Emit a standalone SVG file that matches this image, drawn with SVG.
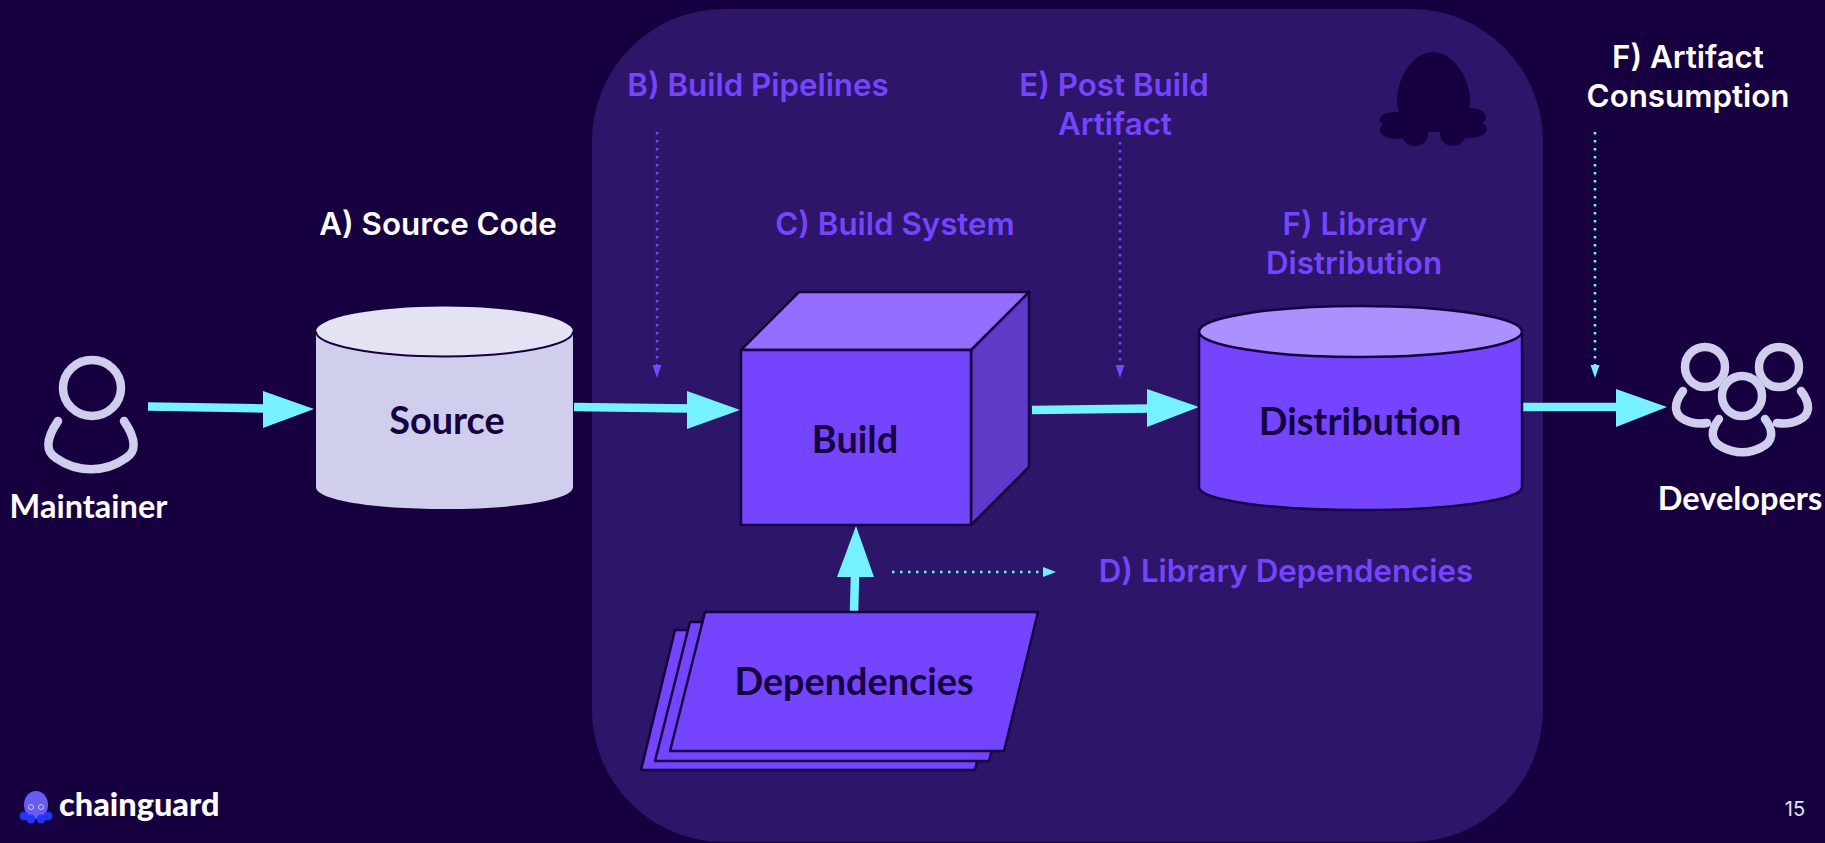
<svg xmlns="http://www.w3.org/2000/svg" width="1825" height="843" viewBox="0 0 1825 843">
<style>
.h{font-family:Inter,"Open Sans",sans-serif;font-weight:600;font-size:31.300px;text-anchor:middle}
.w{fill:#fff}.p{fill:#7444FF}
.n{font-family:Lato,"Liberation Sans",sans-serif;font-weight:700;font-size:37.800px;fill:#170040;text-anchor:middle}
.l{font-family:Lato,"Liberation Sans",sans-serif;font-weight:700;font-size:32.500px;fill:#fff;text-anchor:middle}
.o{stroke:#170040;stroke-width:2.5;stroke-linejoin:round}
.i{fill:none;stroke:#CFCEEC;stroke-width:8.5;stroke-linecap:round}
.s{stroke:#75F1FF;stroke-width:8.5;fill:none}
.a{fill:#75F1FF}
.d{fill:none;stroke-width:2.500;stroke-dasharray:2.500 5.500}
</style>
<rect width="1825" height="843" fill="#170040"/>
<rect id="panel" x="592" y="9" width="951" height="833" rx="132" fill="#2D1569"/>
<g id="octopus-mark" fill="#170040">
<path d="M1433 52C1453 52 1470 78 1470 100C1470 115 1462 132 1433 132C1404 132 1397 115 1397 100C1397 78 1413 52 1433 52Z"/>
<ellipse cx="1394" cy="120" rx="14" ry="8"/><ellipse cx="1396" cy="130" rx="16" ry="9"/>
<ellipse cx="1472" cy="117" rx="14" ry="9"/><ellipse cx="1470" cy="129" rx="17" ry="9"/>
<ellipse cx="1415" cy="134" rx="13" ry="12"/><ellipse cx="1453" cy="134" rx="13" ry="12"/>
<rect x="1405" y="115" width="56" height="17"/>
</g>
<g id="connectors">
<path class="s" d="M148 406.500L265 408.500M574 407L690 408.500M1032 410L1150 408.500M1521 407H1618M854 612L855 575"/>
<path class="a" d="M263 391L314 409L263 428ZM687 391L740 410L687 429ZM1147 389L1199 407L1147 427ZM1616 389L1667 407L1616 427ZM837 577L856 526L874 577Z"/>
<path class="d" stroke="#75F1FF" d="M892 572H1043M1595 132V366"/>
<path class="a" d="M1043 567L1056 572L1043 577ZM1590.500 365H1599.500L1595 378Z"/>
<path class="d" stroke="#7444FF" d="M657 132V366M1120 142V366"/>
<path class="p" d="M652.500 365H661.500L657 378ZM1115.500 365H1124.500L1120 378Z"/>
</g>
<g id="maintainer">
<ellipse class="i" cx="92" cy="388" rx="29" ry="28"/>
<path class="i" d="M59 421C46 440 47 452 57 458C78 473 106 473 127 458C137 452 138 440 125 421" transform="translate(-1 0)"/>
<text class="l" x="88.500" y="518">Maintainer</text>
</g>
<g id="source">
<path fill="#CFCEEC" d="M316 332V487C316 500 372 509 444 509C516 509 573 500 573 487V332Z"/>
<ellipse cx="444.500" cy="331.500" rx="128.500" ry="25" fill="#E3E3F4"/>
<path fill="none" stroke="#170040" stroke-width="2" d="M316 331.500C316 345 372 356.500 444.500 356.500C517 356.500 573 345 573 331.500"/>
<text class="n" x="447" y="434">Source</text>
</g>
<g id="build">
<path class="o" fill="#6039C8" d="M971 350L1029 292V467L971 525Z"/>
<path class="o" fill="#946DFF" d="M741 350L799 292H1029L971 350Z"/>
<rect class="o" x="741" y="350" width="230" height="175" fill="#7444FF"/>
<text class="n" x="855" y="452.500">Build</text>
</g>
<g id="dependencies">
<path class="o" fill="#7444FF" d="M675 630H1010L975 770H641Z"/>
<path class="o" fill="#7444FF" d="M690 622H1025L989 761H655Z"/>
<path class="o" fill="#7444FF" d="M705 612H1038L1004 751H670Z"/>
<text class="n" x="854" y="695">Dependencies</text>
</g>
<g id="distribution">
<path class="o" fill="#7444FF" d="M1199 332V487C1199 500 1270 510 1360 510C1451 510 1522 500 1522 487V332Z"/>
<ellipse class="o" cx="1360.500" cy="331.500" rx="161.500" ry="25.500" fill="#AB90FF"/>
<text class="n" x="1360" y="434.500">Distribution</text>
</g>
<g id="developers">
<circle class="i" cx="1705" cy="367" r="20"/>
<circle class="i" cx="1779" cy="367" r="20"/>
<path class="i" d="M1683 391C1672 405 1675 416 1685 420C1693 424 1700 424 1707 423M1801 391C1812 405 1809 416 1799 420C1791 424 1784 424 1777 423M1719 419C1709 432 1712 442 1722 447C1735 454 1750 454 1762 447C1772 442 1775 432 1765 419"/>
<circle cx="1742" cy="396" r="24" fill="#170040"/>
<circle class="i" cx="1742" cy="396" r="20"/>
<text class="l" x="1740" y="510">Developers</text>
</g>
<g id="labels">
<text class="h w" x="438" y="235">A) Source Code</text>
<text class="h p" x="758" y="96">B) Build Pipelines</text>
<text class="h p" x="895" y="235">C) Build System</text>
<text class="h p" x="1286" y="582">D) Library Dependencies</text>
<text class="h p" x="1114" y="96">E) Post Build</text>
<text class="h p" x="1115" y="135">Artifact</text>
<text class="h p" x="1355" y="235">F) Library</text>
<text class="h p" x="1354" y="274">Distribution</text>
<text class="h w" x="1688" y="68">F) Artifact</text>
<text class="h w" x="1688" y="107">Consumption</text>
</g>
<g id="logo">
<ellipse cx="36" cy="805" rx="12" ry="14" fill="#6A5CF0"/>
<g fill="#2433F5"><circle cx="24" cy="816" r="4.500"/><circle cx="31" cy="819" r="4.500"/><circle cx="41" cy="819" r="4.500"/><circle cx="48" cy="816" r="4.500"/></g>
<circle cx="31" cy="807" r="2.500" fill="none" stroke="#C9C6F5"/><circle cx="41" cy="807" r="2.500" fill="none" stroke="#C9C6F5"/>
<text x="59" y="816" font-family="Lato,'Liberation Sans',sans-serif" font-weight="900" font-size="32.500" fill="#fff">chainguard</text>
</g>
<text id="page" x="1795" y="816" font-family="Inter,sans-serif" font-size="20" fill="#E3E3F4" text-anchor="middle">15</text>
</svg>
